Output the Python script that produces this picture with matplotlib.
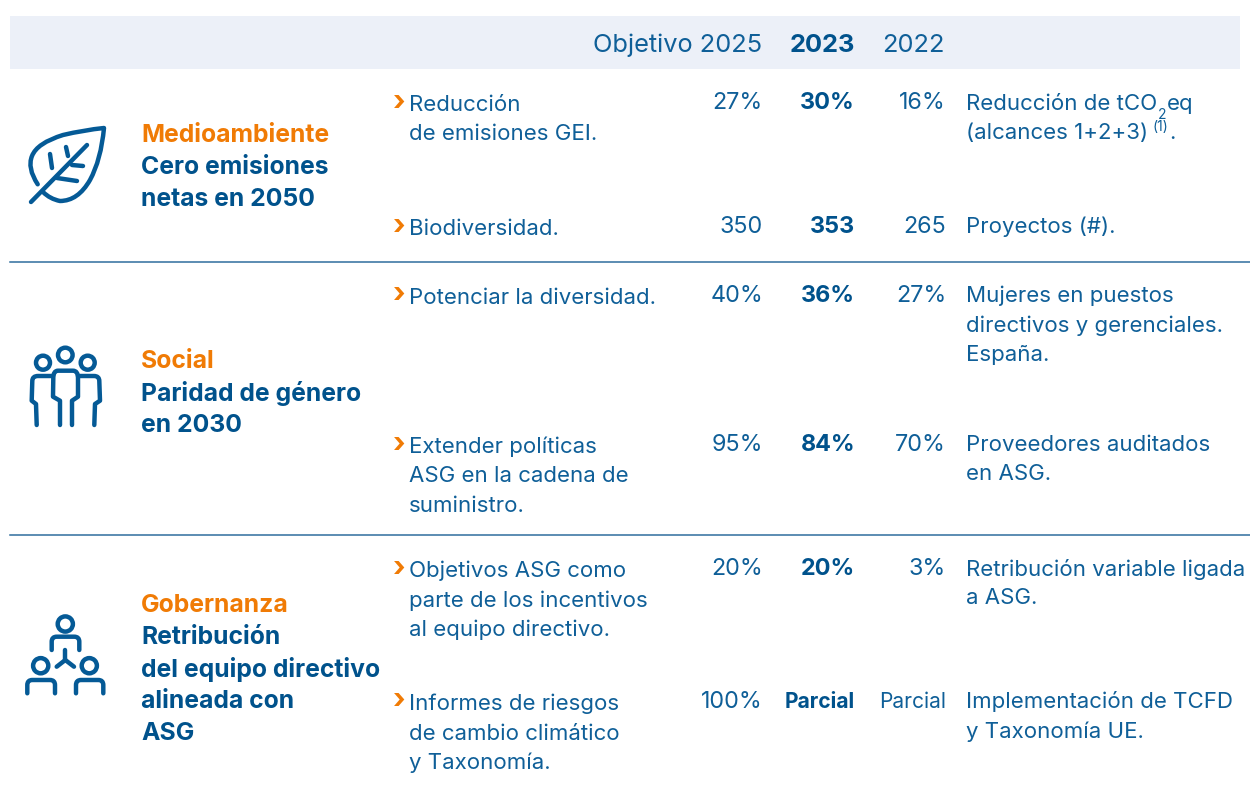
import matplotlib
matplotlib.use("Agg")
import matplotlib.pyplot as plt
from matplotlib.patches import Rectangle, Circle, PathPatch
from matplotlib.path import Path

W, H = 1250, 791
NAVY = "#00528C"
TEXT = "#0F5F98"
ICON = "#055A96"
ORANGE = "#F07B05"
BAND = "#ECF0F8"
LINE = "#2F6E9E"

header_labels = ["Objetivo 2025", "2023", "2022"]
pillars = ["Medioambiente", "Social", "Gobernanza"]
pillar_subs = ["Cero emisiones\nnetas en 2050", "Paridad de género\nen 2030", "Retribución\ndel equipo directivo\nalineada con\nASG"]
actions = ["Reducción\nde emisiones GEI.", "Biodiversidad.", "Potenciar la diversidad.",
           "Extender políticas\nASG en la cadena de\nsuministro.",
           "Objetivos ASG como\nparte de los incentivos\nal equipo directivo.",
           "Informes de riesgos\nde cambio climático\ny Taxonomía."]
target_2025 = ["27%", "350", "40%", "95%", "20%", "100%"]
value_2023 = ["30%", "353", "36%", "84%", "20%", "Parcial"]
value_2022 = ["16%", "265", "27%", "70%", "3%", "Parcial"]
metrics = ["", "Proyectos (#).",
           "Mujeres en puestos\ndirectivos y gerenciales.\nEspaña.",
           "Proveedores auditados\nen ASG.", "Retribución variable ligada\na ASG.",
           "Implementación de TCFD\ny Taxonomía UE."]

plt.rcParams["font.family"] = ["Inter", "DejaVu Sans"]

fig = plt.figure(figsize=(W / 100, H / 100), dpi=100)
ax = fig.add_axes([0, 0, 1, 1])
ax.set_xlim(0, W)
ax.set_ylim(H, 0)
ax.axis("off")

ax.add_patch(Rectangle((10, 16), 1230, 53, fc=BAND, ec="none"))
for y in (262, 535):
    ax.plot([10, 1250], [y, y], color=LINE, lw=1.1)

FS = 16
VS = 16.8
WS = 15.1
HS = 18.3
BS = 17.8
ax.text(762, 45.5, header_labels[0], ha="right", va="center", fontsize=HS, color=TEXT)
ax.text(855, 45.5, header_labels[1], ha="right", va="center", fontsize=HS, color=NAVY, fontweight="bold")
ax.text(945, 45.5, header_labels[2], ha="right", va="center", fontsize=HS, color=TEXT)

row_y = [102, 226, 295, 444, 568, 701]
pillar_y = [135.5, 361.5, 605.5]
for name, sub, y in zip(pillars, pillar_subs, pillar_y):
    ax.text(141, y, name, fontsize=BS, fontweight="bold", color=ORANGE, va="center")
    for i, line in enumerate(sub.split("\n")):
        ax.text(141, y + 32 * (i + 1), line, fontsize=BS, fontweight="bold", color=NAVY, va="center")

for a, t, v, p, m, y in zip(actions, target_2025, value_2023, value_2022, metrics, row_y):
    ax.text(393, y + 1, "›", fontsize=21, fontweight="bold", color=ORANGE, va="center")
    for i, line in enumerate(a.split("\n")):
        ax.text(409, y + 3 + 29.5 * i, line, fontsize=FS, color=TEXT, va="center")
    is_word = v == "Parcial"
    ax.text(763, y + 1, t, ha="right", va="center", fontsize=VS, color=TEXT)
    ax.text(855, y + 1, v, ha="right", va="center", fontsize=WS if is_word else VS, fontweight="bold", color=NAVY)
    ax.text(946, y + 1, p, ha="right", va="center", fontsize=WS if is_word else VS, color=TEXT)
    for i, line in enumerate(m.split("\n")):
        ax.text(966, y + 1 + 29.5 * i, line, fontsize=FS, color=TEXT, va="center")

# composite metric with subscript and superscript
r = fig.canvas.get_renderer()
def run(x, y, s, size=FS):
    t = ax.text(x, y, s, fontsize=size, color=TEXT, va="baseline")
    return t.get_window_extent(r).x1

x = run(966, 110, "Reducción de tCO")
x = run(x + 1, 119, "2", 10)
run(x, 110, "eq")
x = run(966, 139, "(alcances 1+2+3)")
x = run(x + 4, 131, "(1)", 10)
run(x + 1, 139, ".")

# icons
STROKE = dict(fc="none", ec=ICON, lw=3.2, capstyle="round", joinstyle="round")
M, L, C = Path.MOVETO, Path.LINETO, Path.CURVE3

def poly(points, codes=None):
    codes = codes or [M] + [L] * (len(points) - 1)
    ax.add_patch(PathPatch(Path(points, codes), **STROKE))

def ring(x, y, rad):
    ax.add_patch(Circle((x, y), rad, **STROKE))

# leaf
poly([(37.7, 184.3), (27, 168), (32, 156), (37, 143), (63, 135), (84, 130), (104, 128),
      (101, 160), (90, 180), (78, 201), (60, 201), (50, 199), (43, 192)],
     [M, C, C, C, C, C, C, C, C, C, C, C, C])
poly([(31, 202), (87, 145)])
poly([(50, 154), (52, 168)])
poly([(66, 147), (68, 156)])
poly([(72, 165), (83, 166)])
poly([(57, 178), (77, 181)])

# people
ring(65.3, 355, 7.3)
ring(43, 362.7, 7)
ring(87.7, 362.7, 7)
poly([(60, 425), (60, 400.7), (53, 396.7), (53.3, 378), (53.3, 370.7), (58, 370.7),
      (73, 370.7), (78, 370.7), (78, 378), (78, 396.7), (72, 400.7), (72, 425)],
     [M, L, L, L, C, C, L, C, C, L, L, L])
poly([(53, 376), (38, 376), (32.3, 376), (32.3, 381), (31.7, 400.7), (36, 404), (36.7, 425)],
     [M, L, C, C, L, L, L])
poly([(78, 376), (94, 376), (99.3, 376), (99.3, 381), (100, 400.7), (95, 404), (94.3, 425)],
     [M, L, C, C, L, L, L])

# hierarchy
def shoulders(x0, x1, y_top, y_bot):
    poly([(x0, y_bot), (x0, y_top + 5), (x0, y_top), (x0 + 5, y_top),
          (x1 - 5, y_top), (x1, y_top), (x1, y_top + 5), (x1, y_bot)],
         [M, L, C, C, L, C, C, L])

ring(65.3, 624, 7.6)
ring(40.7, 665.7, 7.6)
ring(89.3, 665.7, 7.6)
shoulders(51.7, 79.3, 636.7, 650)
shoulders(27.3, 55, 680, 693.3)
shoulders(76, 103.3, 680, 693.3)
poly([(65.3, 650), (65.3, 660)])
poly([(56.7, 666.7), (65.3, 660), (74, 666.7)])

fig.savefig("out.png", dpi=100)
